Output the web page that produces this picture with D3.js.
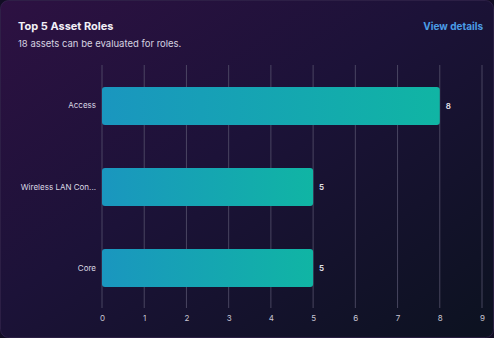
<!DOCTYPE html>
<html>
<head>
<meta charset="utf-8">
<script src="https://cdn.jsdelivr.net/npm/d3@7"></script>
<style>
  html, body { margin: 0; padding: 0; background: #140f2a; }
  svg { display: block; font-family: Inter, "Noto Sans", sans-serif; }
</style>
</head>
<body>
<div id="chart"></div>
<script>
let categories = ["Access", "Wireless LAN Con...", "Core"];
let values = [8, 5, 5];
let xTicks = [0, 1, 2, 3, 4, 5, 6, 7, 8, 9];

let width = 494, height = 338;
let margin = { top: 65, right: 12, bottom: 29, left: 102 };

let svg = d3.select("#chart").append("svg")
    .attr("width", width)
    .attr("height", height);

let defs = svg.append("defs");

// card background
let bg = defs.append("linearGradient")
    .attr("id", "bg")
    .attr("x1", "0").attr("y1", "0").attr("x2", "1").attr("y2", "1");
bg.append("stop").attr("offset", "0%").attr("stop-color", "#2d1142");
bg.append("stop").attr("offset", "45%").attr("stop-color", "#1c1238");
bg.append("stop").attr("offset", "100%").attr("stop-color", "#0c1220");

let barGrad = defs.append("linearGradient")
    .attr("id", "bar")
    .attr("x1", "0").attr("y1", "0").attr("x2", "1").attr("y2", "0");
barGrad.append("stop").attr("offset", "0%").attr("stop-color", "#1a96bf");
barGrad.append("stop").attr("offset", "100%").attr("stop-color", "#10b5a4");

svg.append("rect")
    .attr("width", width).attr("height", height)
    .attr("fill", "#120d24");
svg.append("rect")
    .attr("x", 0.5).attr("y", 0.5)
    .attr("width", width - 1).attr("height", height - 1)
    .attr("rx", 8)
    .attr("fill", "url(#bg)")
    .attr("stroke", "#3a2a55")
    .attr("stroke-opacity", 0.6);

// header
svg.append("text")
    .attr("x", 18).attr("y", 30)
    .attr("fill", "#f2f0f7")
    .attr("font-size", 11)
    .attr("font-weight", 700)
    .text("Top 5 Asset Roles");
svg.append("text")
    .attr("x", 18).attr("y", 47)
    .attr("fill", "#d6d2e0")
    .attr("font-size", 9.5)
    .text("18 assets can be evaluated for roles.");
svg.append("text")
    .attr("x", 483).attr("y", 30)
    .attr("text-anchor", "end")
    .attr("fill", "#4b9de6")
    .attr("font-size", 10)
    .attr("font-weight", 700)
    .text("View details");

let x = d3.scaleLinear()
    .domain([0, 9])
    .range([margin.left, width - margin.right]);

let y = d3.scaleBand()
    .domain(categories)
    .range([margin.top, height - margin.bottom])
    .paddingInner(0.53)
    .paddingOuter(0.27);

// gridlines
svg.append("g")
    .selectAll("line")
    .data(xTicks)
    .join("line")
    .attr("x1", d => x(d)).attr("x2", d => x(d))
    .attr("y1", margin.top).attr("y2", height - margin.bottom - 1)
    .attr("stroke", "#5a5670")
    .attr("stroke-opacity", 0.75)
    .attr("stroke-width", 1);

// x axis labels
let xAxis = d3.axisBottom(x).tickValues(xTicks).tickSize(0).tickPadding(0);
let ax = svg.append("g")
    .attr("transform", `translate(0,${height - margin.bottom + 6})`)
    .call(xAxis);
ax.select(".domain").remove();
ax.selectAll("text")
    .attr("fill", "#c9c6d4")
    .attr("font-size", 8)
    .attr("font-family", "Inter, 'Noto Sans', sans-serif");

// y axis labels
let yAxis = d3.axisLeft(y).tickSize(0).tickPadding(6);
let ay = svg.append("g")
    .attr("transform", `translate(${margin.left},0)`)
    .call(yAxis);
ay.select(".domain").remove();
ay.selectAll("text")
    .attr("fill", "#dcd9e4")
    .attr("font-size", 8)
    .attr("font-family", "Inter, 'Noto Sans', sans-serif");

// bars
svg.append("g")
    .selectAll("rect")
    .data(categories)
    .join("rect")
    .attr("x", x(0))
    .attr("y", d => y(d))
    .attr("width", (d, i) => x(values[i]) - x(0))
    .attr("height", y.bandwidth())
    .attr("rx", 3)
    .attr("fill", "url(#bar)");

// value labels
svg.append("g")
    .selectAll("text")
    .data(categories)
    .join("text")
    .attr("x", (d, i) => x(values[i]) + 6)
    .attr("y", d => y(d) + y.bandwidth() / 2)
    .attr("dy", "0.35em")
    .attr("fill", "#e6e4ec")
    .attr("font-size", 8)
    .attr("font-weight", 600)
    .text((d, i) => values[i]);
</script>
</body>
</html>
